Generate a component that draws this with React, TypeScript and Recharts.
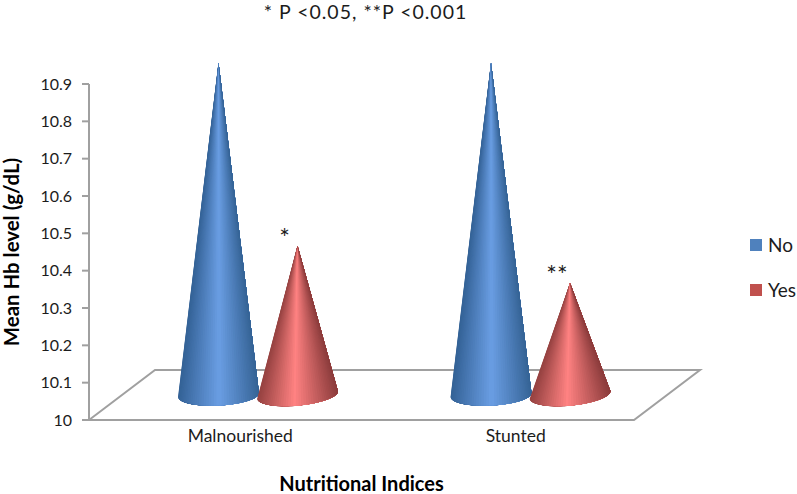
import { Bar, BarChart, Legend, ReferenceArea, XAxis, YAxis } from 'recharts';

const CATEGORIES = ['Malnourished', 'Stunted'];
const NO_VALUES = [10.89, 10.89];
const YES_VALUES = [10.4, 10.3];
const YES_MARKS = ['*', '**'];
const Y_TICKS = [10, 10.1, 10.2, 10.3, 10.4, 10.5, 10.6, 10.7, 10.8, 10.9];
const FLOOR_TOP = 10.134;

const data = CATEGORIES.map((name, i) => ({
  name,
  No: NO_VALUES[i],
  Yes: YES_VALUES[i],
  mark: YES_MARKS[i],
}));

const FONT = 'Lato, sans-serif';
const TEXT = '#1c1c1c';
const AXIS = '#a0a0a0';
// the fake 3D depth pushes the cones back and up from the axis
const DX = 33;
const DY = -25;
const FACETS = 48;

type Shade = { edgeL: number[]; mid: number[]; edgeR: number[]; at: number };
const BLUE: Shade = { edgeL: [52, 98, 150], mid: [106, 158, 228], edgeR: [54, 100, 150], at: 0.5 };
const RED: Shade = { edgeL: [150, 66, 65], mid: [255, 130, 130], edgeR: [140, 60, 60], at: 0.45 };

function shadeAt(s: Shade, u: number) {
  const [a, b, k] = u < s.at ? [s.edgeL, s.mid, u / s.at] : [s.mid, s.edgeR, (u - s.at) / (1 - s.at)];
  const c = a.map((v, i) => Math.round(v + (b[i] - v) * k));
  return `rgb(${c[0]},${c[1]},${c[2]})`;
}

function cone(shade: Shade, tilt: number, showMark: boolean) {
  return (props: any) => {
    const { x, y, width, height, payload } = props;
    const cx = x + width / 2 + DX;
    const base = y + height + DY;
    const apex = y + DY;
    const rx = 40.5;
    const ry = 10.5;
    const rad = (tilt * Math.PI) / 180;
    const pt = (t: number) => {
      const ex = rx * Math.cos(t);
      const ey = ry * Math.sin(t);
      return [cx + ex * Math.cos(rad) - ey * Math.sin(rad), base + ex * Math.sin(rad) + ey * Math.cos(rad)];
    };
    const end = pt(0);
    // painted left to right, each layer reaching the right edge, so no seams show
    const layers = [];
    for (let i = 0; i < FACETS; i++) {
      const t0 = Math.PI - (i * Math.PI) / FACETS;
      const p0 = pt(t0);
      const u = (1 + Math.cos(t0 - Math.PI / FACETS / 2)) / 2;
      layers.push(
        <path
          key={i}
          d={`M${cx},${apex} L${p0[0]},${p0[1]} A${rx},${ry} ${tilt} 0 0 ${end[0]},${end[1]} Z`}
          fill={shadeAt(shade, u)}
        />
      );
    }
    return (
      <g>
        {layers}
        {showMark && (
          <text x={cx - 13} y={apex + 1} textAnchor="middle" fontFamily={FONT} fontSize={25} fill={TEXT}>
            {payload.mark}
          </text>
        )}
      </g>
    );
  };
}

function floorShape(props: any) {
  const { x, y, width, height } = props;
  const d = `M${x},${y + height} L${x + 66},${y} L${x + width + 66},${y} L${x + width},${y + height} Z`;
  return <path d={d} fill="#fff" stroke={AXIS} strokeWidth={2} />;
}

function categoryTick(props: any) {
  const { x, y, payload, index } = props;
  return (
    <text x={x + 15 + index * 3} y={y + 6} textAnchor="middle" fontFamily={FONT} fontSize={17.5} fill={TEXT}>
      {payload.value}
    </text>
  );
}

function legendContent(props: any) {
  return (
    <div>
      {props.payload.map((entry: any) => (
        <div key={entry.value} style={{ display: 'flex', alignItems: 'center', height: 45 }}>
          <span style={{ width: 12, height: 12, background: entry.color, marginRight: 6 }} />
          <span style={{ fontFamily: FONT, fontSize: 19, color: TEXT }}>{entry.value}</span>
        </div>
      ))}
    </div>
  );
}

export default function App() {
  return (
    <div style={{ position: 'absolute', left: 0, top: 0, width: 797, height: 494, background: '#fff' }}>
      <div
        style={{
          position: 'absolute', left: 0, width: 731, top: 0, textAlign: 'center',
          fontFamily: FONT, fontSize: 19.5, letterSpacing: 1, color: TEXT,
        }}
      >
        * P &lt;0.05, **P &lt;0.001
      </div>
      <BarChart
        width={797}
        height={494}
        data={data}
        barSize={79}
        barGap={0}
        margin={{ top: 84, right: 116, left: 0, bottom: 0 }}
      >
        <XAxis
          dataKey="name"
          height={74}
          tick={categoryTick}
          tickLine={false}
          tickMargin={10}
          axisLine={{ stroke: AXIS, strokeWidth: 2 }}
          label={{
            value: 'Nutritional Indices', position: 'insideBottom', offset: 3,
            fontFamily: FONT, fontSize: 20, fontWeight: 700, fill: '#000',
          }}
        />
        <YAxis
          width={89}
          domain={[10, 10.9]}
          ticks={Y_TICKS}
          interval={0}
          tickSize={7}
          tickMargin={10}
          tick={{ fontFamily: FONT, fontSize: 16, fill: TEXT }}
          tickLine={{ stroke: AXIS, strokeWidth: 2 }}
          axisLine={{ stroke: AXIS, strokeWidth: 2 }}
          label={{
            value: 'Mean  Hb level (g/dL)', angle: -90, position: 'insideLeft', offset: 0, dx: 12,
            fontFamily: FONT, fontSize: 20.4, fontWeight: 700, fill: '#000', style: { textAnchor: 'middle', whiteSpace: 'pre' },
          }}
        />
        <ReferenceArea y1={10} y2={FLOOR_TOP} shape={floorShape} ifOverflow="visible" />
        <Legend
          layout="horizontal"
          verticalAlign="middle"
          align="right"
          content={legendContent}
          wrapperStyle={{ left: 750, top: 222, width: 47, bottom: 'auto', right: 'auto' }}
        />
        <Bar dataKey="No" fill="#4f81bd" isAnimationActive={false} shape={cone(BLUE, -3, false)} />
        <Bar dataKey="Yes" fill="#c0504d" isAnimationActive={false} shape={cone(RED, -5.5, true)} />
      </BarChart>
    </div>
  );
}
